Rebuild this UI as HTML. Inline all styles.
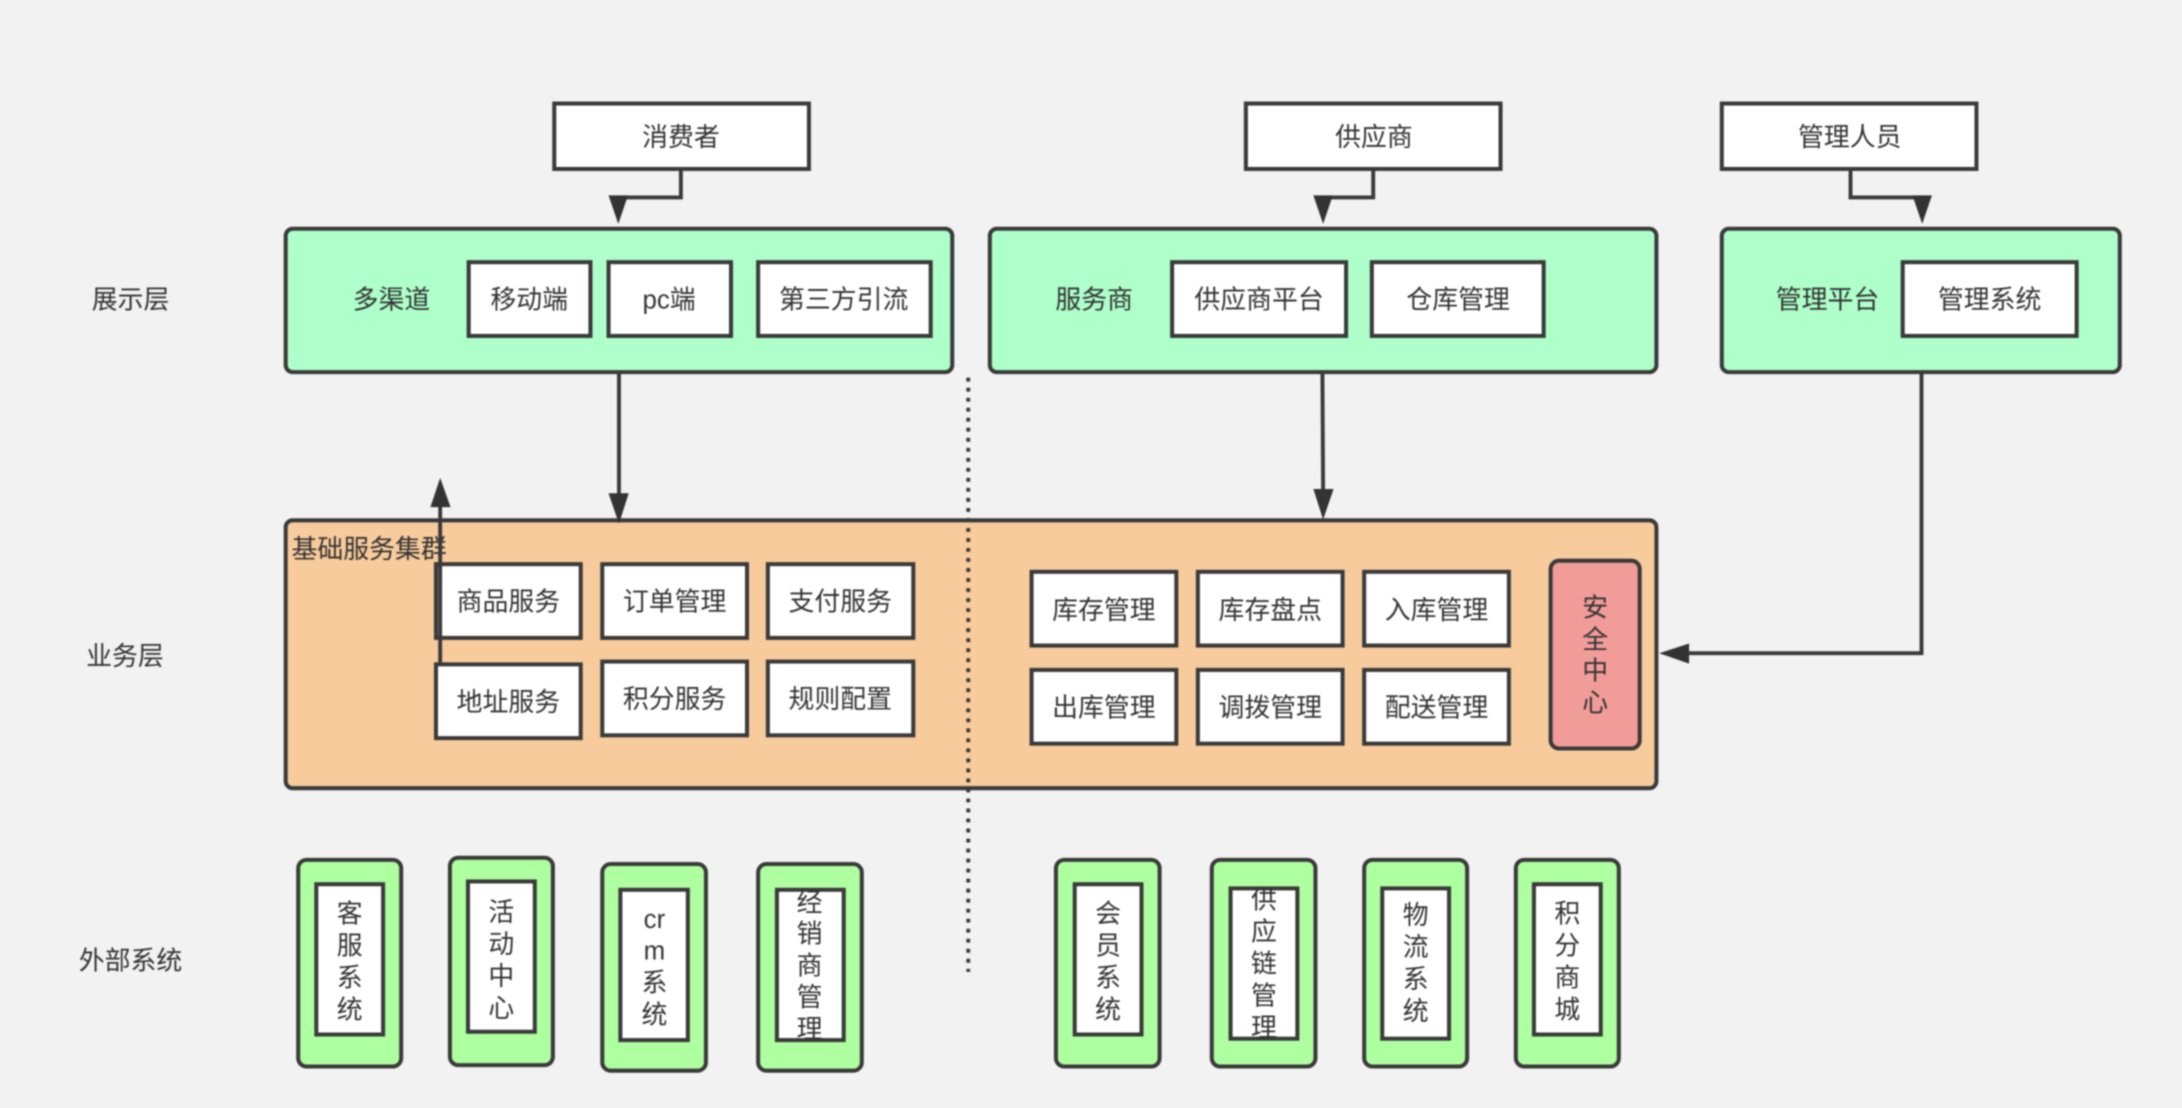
<!DOCTYPE html>
<html lang="zh">
<head>
<meta charset="utf-8">
<style>
html,body{margin:0;padding:0;background:#f2f2f2;width:2182px;height:1108px;overflow:hidden}
svg{display:block;filter:blur(.8px)}
text{font-family:"Liberation Sans","Noto Sans CJK SC",sans-serif;font-size:18.6px;fill:#333;text-anchor:middle;dominant-baseline:central;transform:translateY(.7px)}
.w{fill:#fff;stroke:#3a3a3a;stroke-width:2.9}
.g{fill:#aeffca;stroke:#3a3a3a;stroke-width:2.9}
.o{fill:#f7cb9c;stroke:#3a3a3a;stroke-width:2.9}
.e{fill:#aeffa0;stroke:#3a3a3a;stroke-width:2.9}
.l{fill:none;stroke:#3a3a3a;stroke-width:2.8}
.a{fill:#333}
</style>
</head>
<body>
<svg xmlns="http://www.w3.org/2000/svg" width="2182" height="1108" viewBox="0 0 1568 796.2">
<rect width="1568" height="797" fill="#f2f2f2"/>
<g transform="translate(.3 .4)">

<!-- panels -->
<rect class="g" x="205" y="164" width="479" height="103" rx="5"/>
<rect class="g" x="711" y="164" width="479" height="103" rx="5"/>
<rect class="g" x="1237" y="164" width="286" height="103" rx="5"/>
<rect class="o" x="205" y="373.5" width="985" height="192.5" rx="5"/>

<!-- actors -->
<rect class="w" x="398" y="74" width="183" height="47"/>
<rect class="w" x="895" y="74" width="183" height="47"/>
<rect class="w" x="1237" y="74" width="183" height="47"/>
<text x="489" y="98">消费者</text>
<text x="987" y="98">供应商</text>
<text x="1329" y="98">管理人员</text>

<!-- side labels -->
<text x="93.5" y="215">展示层</text>
<text x="89.5" y="471">业务层</text>
<text x="93.5" y="690">外部系统</text>

<!-- presentation row -->
<text x="281" y="215">多渠道</text>
<text x="786" y="215">服务商</text>
<text x="1313" y="215">管理平台</text>
<rect class="w" x="336.5" y="188" width="87.5" height="53"/><text x="380" y="215">移动端</text>
<rect class="w" x="437" y="188" width="88" height="53"/><text x="480.5" y="215">pc端</text>
<rect class="w" x="544.5" y="188" width="124" height="53"/><text x="606" y="215">第三方引流</text>
<rect class="w" x="842" y="188" width="125" height="53"/><text x="904.5" y="215">供应商平台</text>
<rect class="w" x="985.5" y="188" width="123.5" height="53"/><text x="1047.5" y="215">仓库管理</text>
<rect class="w" x="1367" y="188" width="125" height="53"/><text x="1429.5" y="215">管理系统</text>

<!-- business layer -->
<text x="265" y="394">基础服务集群</text>
<rect class="w" x="313" y="405" width="104" height="53"/><text x="365" y="432">商品服务</text>
<rect class="w" x="432.5" y="405" width="104" height="53"/><text x="484.5" y="432">订单管理</text>
<rect class="w" x="551.5" y="405" width="104.5" height="53"/><text x="603.5" y="432">支付服务</text>
<rect class="w" x="313" y="477" width="104" height="53"/><text x="365" y="504">地址服务</text>
<rect class="w" x="432.5" y="475" width="104" height="53"/><text x="484.5" y="502">积分服务</text>
<rect class="w" x="551.5" y="475" width="104.5" height="53"/><text x="603.5" y="502">规则配置</text>

<rect class="w" x="741" y="410.5" width="104" height="53"/><text x="793" y="438">库存管理</text>
<rect class="w" x="860.5" y="410.5" width="104" height="53"/><text x="912.5" y="438">库存盘点</text>
<rect class="w" x="980" y="410.5" width="104" height="53"/><text x="1032" y="438">入库管理</text>
<rect class="w" x="741" y="481" width="104" height="53"/><text x="793" y="508">出库管理</text>
<rect class="w" x="860.5" y="481" width="104" height="53"/><text x="912.5" y="508">调拨管理</text>
<rect class="w" x="980" y="481" width="104" height="53"/><text x="1032" y="508">配送管理</text>

<rect x="1114" y="402.5" width="64" height="135" rx="6" fill="#f19c99" stroke="#3a3a3a" stroke-width="2.9"/>
<text x="1146" y="436">安</text><text x="1146" y="459">全</text><text x="1146" y="481.5">中</text><text x="1146" y="504.5">心</text>

<!-- external systems -->
<rect class="e" x="214" y="617.5" width="74" height="148.5" rx="6"/>
<rect class="w" x="227" y="635" width="48" height="108"/>
<text x="251" y="656">客</text><text x="251" y="679">服</text><text x="251" y="702">系</text><text x="251" y="725">统</text>

<rect class="e" x="323" y="616" width="74" height="149" rx="6"/>
<rect class="w" x="336" y="633" width="48" height="108"/>
<text x="360" y="655">活</text><text x="360" y="678">动</text><text x="360" y="701">中</text><text x="360" y="724">心</text>

<rect class="e" x="432.5" y="620.5" width="74.5" height="148.5" rx="6"/>
<rect class="w" x="445.5" y="639" width="48.5" height="108"/>
<text x="470" y="660">cr</text><text x="470" y="682.5">m</text><text x="470" y="705.5">系</text><text x="470" y="728.5">统</text>

<rect class="e" x="544.5" y="620.5" width="74.5" height="148.5" rx="6"/>
<rect class="w" x="558" y="639" width="48" height="108"/>
<text x="581.5" y="648">经</text><text x="581.5" y="670.5">销</text><text x="581.5" y="693.5">商</text><text x="581.5" y="716">管</text><text x="581.5" y="739">理</text>

<rect class="e" x="758.5" y="617.5" width="74.5" height="148.5" rx="6"/>
<rect class="w" x="772" y="635" width="48" height="108"/>
<text x="796" y="656">会</text><text x="796" y="679">员</text><text x="796" y="702">系</text><text x="796" y="725">统</text>

<rect class="e" x="870.5" y="617.5" width="74.5" height="148.5" rx="6"/>
<rect class="w" x="884" y="638" width="48" height="108"/>
<text x="908" y="646">供</text><text x="908" y="669">应</text><text x="908" y="692">链</text><text x="908" y="715">管</text><text x="908" y="738">理</text>

<rect class="e" x="980" y="617.5" width="74" height="148.5" rx="6"/>
<rect class="w" x="993" y="638" width="48" height="108"/>
<text x="1017" y="657">物</text><text x="1017" y="680">流</text><text x="1017" y="703">系</text><text x="1017" y="726">统</text>

<rect class="e" x="1089" y="617.5" width="74" height="148.5" rx="6"/>
<rect class="w" x="1102" y="635" width="48" height="108"/>
<text x="1126" y="656">积</text><text x="1126" y="679">分</text><text x="1126" y="702">商</text><text x="1126" y="725">城</text>

<!-- connectors -->
<path class="l" d="M489 121V141.5H444"/>
<polygon class="a" points="437,140 451,140 444,160.5"/>
<path class="l" d="M986.5 121V141.5H950.5"/>
<polygon class="a" points="943.5,140 957.5,140 950.5,160.5"/>
<path class="l" d="M1329.5 121V141.5H1381"/>
<polygon class="a" points="1374,140 1388,140 1381,160.5"/>

<path class="l" d="M444.5 267V356"/>
<polygon class="a" points="437,354 451.5,354 444.5,376"/>
<path class="l" d="M950 267L950.5 353"/>
<polygon class="a" points="943.5,351 958,351 950.5,373"/>
<path class="l" d="M1380.5 267V469H1211"/>
<polygon class="a" points="1213.5,462 1213.5,476.5 1192,469"/>
<path class="l" d="M316 477V362"/>
<polygon class="a" points="309,364 323.5,364 316,343"/>

<line x1="695.5" y1="271" x2="695.5" y2="698" stroke="#3a3a3a" stroke-width="2.8" stroke-dasharray="2.8 4.4"/>
</g>
</svg>
</body>
</html>
